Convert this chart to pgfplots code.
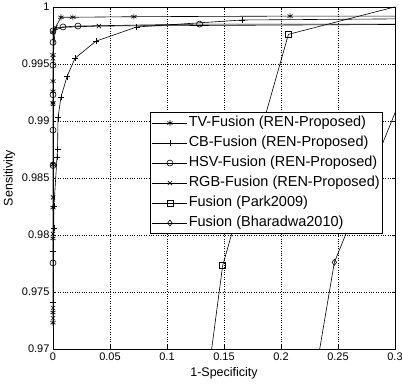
\documentclass[border=0pt]{standalone}
\usepackage{fontspec}
\setmainfont{Liberation Sans}
\usepackage{pgfplots}
\pgfplotsset{compat=1.18}

\begin{document}
\begin{tikzpicture}
\useasboundingbox (-53bp,-35bp) rectangle (349bp,349bp);
\begin{axis}[
    at={(0,0)}, anchor=south west,
    scale only axis,
    width=342bp, height=342bp,
    xmin=0, xmax=0.3,
    ymin=0.97, ymax=1,
    xtick={0,0.05,0.1,0.15,0.2,0.25,0.3},
    ytick={0.97,0.975,0.98,0.985,0.99,0.995,1},
    scaled x ticks=false, scaled y ticks=false,
    yticklabel style={/pgf/number format/.cd, fixed, precision=3},
    xticklabel style={/pgf/number format/.cd, fixed, precision=2},
    /pgf/number format/assume math mode=true,
    tick label style={font=\fontsize{11bp}{13bp}\selectfont},
    label style={font=\fontsize{12.5bp}{15bp}\selectfont},
    xlabel={1-Specificity},
    ylabel={Sensitivity},
    tick align=inside,
    major tick length=3.5bp,
    grid=major,
    major grid style={black, dotted, line width=0.6bp},
    axis line style={line width=0.6bp},
    every tick/.style={black, line width=0.6bp},
    legend image code/.code={
        \draw[mark repeat=2,mark phase=2] plot coordinates {(0bp,0bp)(17.5bp,0bp)(35bp,0bp)};
    },
    legend style={
        at={(axis description cs:0.965,0.693)}, anchor=north east,
        font=\fontsize{14.5bp}{16bp}\selectfont,
        draw=black, line width=0.6bp, fill=white,
        inner xsep=2bp, inner ysep=3bp,
        row sep=4.5bp,
        cells={anchor=west},
        nodes={inner sep=1bp, text height=10.5bp, text depth=3bp},
    },
    every axis plot/.append style={black, solid, line width=0.6bp, mark size=3bp, mark options={solid, black, line width=0.6bp}},
]

% TV-Fusion
\addplot[black, mark=asterisk] coordinates {
    (0,0.9723)(0,0.9732)(0,0.9797)(0,0.9824)(0,0.9862)(0,0.9916)(0,0.9926)
    (0,0.9935)(0,0.9958)(0,0.9978)(0.007,0.9991)(0.0175,0.9991)(0.071,0.99915)
    (0.208,0.9992)(0.36,0.9992)
};

% CB-Fusion
\addplot[black, mark=+] coordinates {
    (0,0.9741)(0,0.9786)(0.0008,0.9806)(0.0008,0.9825)(0.0035,0.9868)(0.004,0.9875)
    (0.0044,0.9903)(0.007,0.9921)(0.0123,0.9939)(0.0193,0.9955)(0.0376,0.9970)
    (0.0735,0.99825)(0.166,0.99886)(0.36,0.9990)
};

% HSV-Fusion
\addplot[black, mark=o] coordinates {
    (0,0.97755)(0,0.9861)(0,0.9892)(0,0.9923)(0,0.9949)(0,0.9969)(0,0.9979)
    (0.0088,0.99825)(0.0219,0.99833)(0.1286,0.9985)(0.36,0.9985)
};

% RGB-Fusion
\addplot[black, mark=x] coordinates {
    (0,0.9727)(0,0.9736)(0,0.9801)(0,0.9833)(0,0.9862)(0,0.9915)(0,0.9955)
    (0.002,0.9982)(0.0403,0.99833)(0.36,0.9985)
};

% Park2009
\addplot[black, mark=square] coordinates {
    (0.126,0.96)(0.1488,0.9773)(0.2065,0.9976)(0.35,1.0013)
};

% Bharadwa2010
\addplot[black, mark=diamond] coordinates {
    (0.2255,0.965)(0.2468,0.9776)(0.33,0.9981)
};

\legend{TV-Fusion (REN-Proposed), CB-Fusion (REN-Proposed), HSV-Fusion (REN-Proposed),
        RGB-Fusion (REN-Proposed), Fusion (Park2009), Fusion (Bharadwa2010)}

\end{axis}
\end{tikzpicture}
\end{document}
